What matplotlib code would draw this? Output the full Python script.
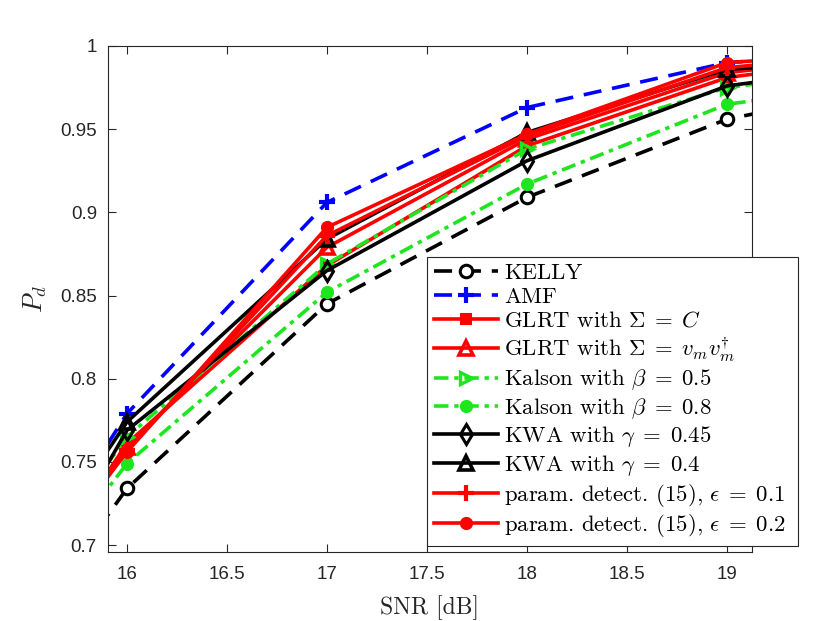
import matplotlib
matplotlib.use("Agg")
import matplotlib.pyplot as plt

plt.rcParams['mathtext.fontset'] = 'cm'
plt.rcParams['font.family'] = ['Liberation Sans', 'DejaVu Sans']

snr = [15, 16, 17, 18, 19, 20]

kelly      = [0.567, 0.734, 0.845, 0.909, 0.956, 0.980]
amf        = [0.590, 0.779, 0.906, 0.963, 0.990, 0.998]
glrt_c     = [0.583, 0.761, 0.868, 0.940, 0.981, 0.997]
glrt_vm    = [0.590, 0.759, 0.879, 0.944, 0.984, 0.997]
kalson_05  = [0.600, 0.765, 0.869, 0.938, 0.975, 0.990]
kalson_08  = [0.592, 0.749, 0.852, 0.917, 0.965, 0.981]
kwa_045    = [0.560, 0.769, 0.865, 0.931, 0.976, 0.992]
kwa_04     = [0.596, 0.774, 0.884, 0.948, 0.986, 0.993]
param_01   = [0.590, 0.757, 0.886, 0.946, 0.987, 0.998]
param_02   = [0.600, 0.756, 0.891, 0.947, 0.990, 0.998]

labels = [
    'KELLY',
    'AMF',
    r'GLRT with $\Sigma\;=\;C$',
    r'GLRT with $\Sigma\;=\;v_m v_m^{\dagger}$',
    r'Kalson with $\beta\;=\;0.5$',
    r'Kalson with $\beta\;=\;0.8$',
    r'KWA with $\gamma\;=\;0.45$',
    r'KWA with $\gamma\;=\;0.4$',
    r'param. detect. (15), $\epsilon\;=\;0.1$',
    r'param. detect. (15), $\epsilon\;=\;0.2$',
]

green = '#1ee61e'
lw = 2.6
styles = [
    (kelly,     dict(color='k', ls=(0, (5, 3)), marker='o', mfc='white', mew=2.2, ms=9)),
    (amf,       dict(color='b', ls=(0, (5, 3)), marker='+', mew=3.0, ms=11)),
    (glrt_c,    dict(color='r', ls='-', marker='s', mfc='r', mew=1.5, ms=7)),
    (glrt_vm,   dict(color='r', ls='-', marker='^', mfc='none', mew=2.6, ms=10)),
    (kalson_05, dict(color=green, ls=(0, (4, 1.6, 1.2, 1.6)), marker='>', mfc='none', mew=2.4, ms=9)),
    (kalson_08, dict(color=green, ls=(0, (4, 1.6, 1.2, 1.6)), marker='o', mfc=green, mew=1.5, ms=8)),
    (kwa_045,   dict(color='k', ls='-', marker='d', mfc='none', mew=2.2, ms=10)),
    (kwa_04,    dict(color='k', ls='-', marker='^', mfc='none', mew=2.6, ms=10)),
    (param_01,  dict(color='r', ls='-', marker='+', mew=3.0, ms=11)),
    (param_02,  dict(color='r', ls='-', marker='o', mfc='r', mew=1.5, ms=8)),
]

fig = plt.figure(figsize=(8.32, 6.21), dpi=100)
ax = fig.add_axes([108/832, 1 - 552/621, (752-108)/832, (552-46)/621])

handles = []
for (vals, st), lab in zip(styles, labels):
    h, = ax.plot(snr, vals, lw=lw, label=lab, **st)
    handles.append(h)

ax.set_xlim(15.905, 19.125)
ax.set_ylim(0.6958, 1.0)
ax.set_xticks([16, 16.5, 17, 17.5, 18, 18.5, 19])
ax.set_xticklabels(['16', '16.5', '17', '17.5', '18', '18.5', '19'])
ax.set_yticks([0.7, 0.75, 0.8, 0.85, 0.9, 0.95, 1.0])
ax.set_yticklabels(['0.7', '0.75', '0.8', '0.85', '0.9', '0.95', '1'])

axc = '#262626'
for s in ax.spines.values():
    s.set_color(axc)
    s.set_linewidth(0.8)
ax.tick_params(direction='in', length=6, width=0.8, colors=axc, labelsize=13.5,
               top=True, right=True, labelcolor='#262626')
ax.tick_params(axis='x', pad=10)
ax.tick_params(axis='y', pad=8)

ax.set_xlabel('SNR [dB]', family='cmr10', fontsize=17, color='#262626', labelpad=9)
ax.set_ylabel(r'$P_d$', fontsize=19, color='#262626', labelpad=8)

leg = fig.legend(handles=handles, loc='lower left',
                 bbox_to_anchor=(427/832, 1 - 546/621, (798-427)/832, (546-253)/621),
                 bbox_transform=fig.transFigure, mode='expand',
                 prop={'family': 'cmr10', 'size': 16.4},
                 handlelength=2.8, handletextpad=0.3, labelspacing=0.16,
                 borderpad=0.3, borderaxespad=0, fancybox=False, framealpha=1,
                 edgecolor=axc)
leg.get_frame().set_linewidth(0.8)

fig.savefig('out.png', dpi=100)
